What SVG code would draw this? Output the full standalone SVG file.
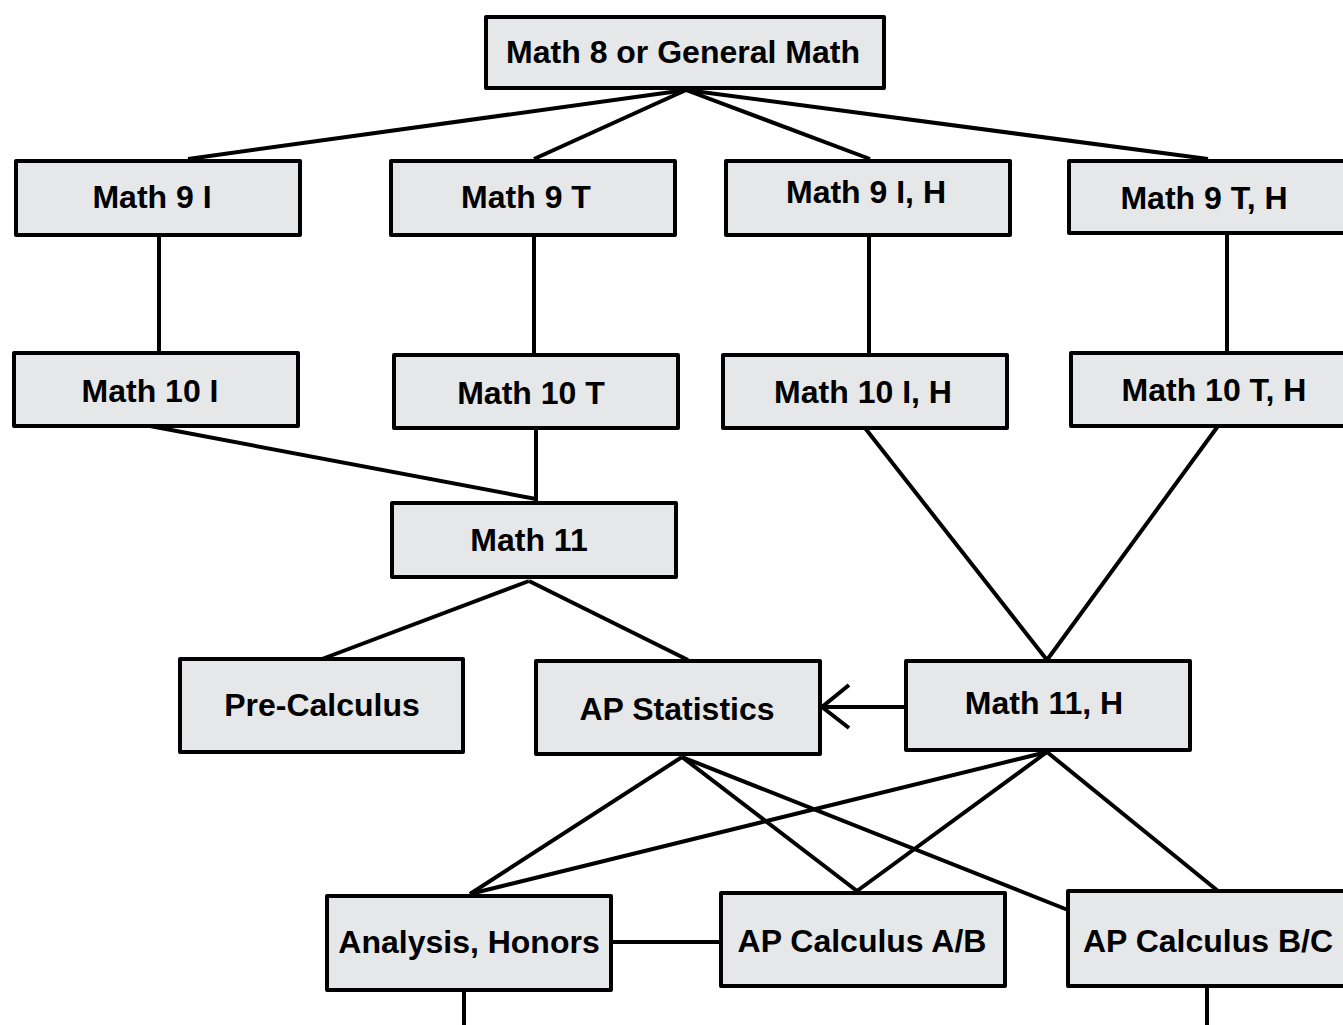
<svg xmlns="http://www.w3.org/2000/svg" width="1343" height="1025" viewBox="0 0 1343 1025">
<style>
.box{fill:#e6e7e8;stroke:#000;stroke-width:4;stroke-linejoin:round}
.lbl{font-family:"Liberation Sans",Arial,Helvetica,sans-serif;font-weight:bold;font-size:32px;fill:#000;text-anchor:middle}
.c line,.c polyline{stroke:#000;stroke-width:4;fill:none}
</style>
<rect width="1343" height="1025" fill="#fff"/>
<g class="c" id="connectors">
<line x1="686" y1="90" x2="188" y2="159"/>
<line x1="686" y1="90" x2="534" y2="159"/>
<line x1="686" y1="90" x2="870" y2="159"/>
<line x1="686" y1="90" x2="1208" y2="159"/>
<line x1="159" y1="235" x2="159" y2="353"/>
<line x1="534" y1="235" x2="534" y2="355"/>
<line x1="869" y1="235" x2="869" y2="355"/>
<line x1="1227" y1="233" x2="1227" y2="353"/>
<line x1="150" y1="426" x2="536" y2="499"/>
<line x1="536" y1="428" x2="536" y2="503"/>
<line x1="865" y1="428" x2="1047" y2="660"/>
<line x1="1218" y1="426" x2="1047" y2="660"/>
<line x1="529" y1="581" x2="322" y2="659"/>
<line x1="529" y1="581" x2="688" y2="660"/>
<line x1="906" y1="707" x2="822" y2="707"/>
<polyline points="849,685 822,707 849,728"/>
<line x1="682" y1="757" x2="470" y2="894"/>
<line x1="682" y1="757" x2="857" y2="891"/>
<line x1="682" y1="757" x2="1068" y2="910"/>
<line x1="1047" y1="752" x2="470" y2="894"/>
<line x1="1047" y1="752" x2="857" y2="891"/>
<line x1="1047" y1="752" x2="1218" y2="891"/>
<line x1="611" y1="942" x2="721" y2="942"/>
<line x1="464" y1="990" x2="464" y2="1025"/>
<line x1="1207" y1="987" x2="1207" y2="1025"/>
</g>
<g id="n-math8"><rect class="box" x="486" y="17" width="398" height="71"/><text class="lbl" x="683" y="63">Math 8 or General Math</text></g>
<g id="n-9i"><rect class="box" x="16" y="161" width="284" height="74"/><text class="lbl" x="152" y="208">Math 9 I</text></g>
<g id="n-9t"><rect class="box" x="391" y="161" width="284" height="74"/><text class="lbl" x="526" y="208">Math 9 T</text></g>
<g id="n-9ih"><rect class="box" x="726" y="161" width="284" height="74"/><text class="lbl" x="866" y="203">Math 9 I, H</text></g>
<g id="n-9th"><rect class="box" x="1069" y="161" width="290" height="72"/><text class="lbl" x="1204" y="209">Math 9 T, H</text></g>
<g id="n-10i"><rect class="box" x="14" y="353" width="284" height="73"/><text class="lbl" x="150" y="402">Math 10 I</text></g>
<g id="n-10t"><rect class="box" x="394" y="355" width="284" height="73"/><text class="lbl" x="531" y="404">Math 10 T</text></g>
<g id="n-10ih"><rect class="box" x="723" y="355" width="284" height="73"/><text class="lbl" x="863" y="403">Math 10 I, H</text></g>
<g id="n-10th"><rect class="box" x="1071" y="353" width="290" height="73"/><text class="lbl" x="1214" y="401">Math 10 T, H</text></g>
<g id="n-11"><rect class="box" x="392" y="503" width="284" height="74"/><text class="lbl" x="529" y="551">Math 11</text></g>
<g id="n-precalc"><rect class="box" x="180" y="659" width="283" height="93"/><text class="lbl" x="322" y="716">Pre-Calculus</text></g>
<g id="n-apstat"><rect class="box" x="536" y="661" width="284" height="93"/><text class="lbl" x="677" y="720">AP Statistics</text></g>
<g id="n-11h"><rect class="box" x="906" y="661" width="284" height="89"/><text class="lbl" x="1044" y="714">Math 11, H</text></g>
<g id="n-analysis"><rect class="box" x="327" y="896" width="284" height="94"/><text class="lbl" x="469" y="953">Analysis, Honors</text></g>
<g id="n-calcab"><rect class="box" x="721" y="893" width="284" height="93"/><text class="lbl" x="862" y="952">AP Calculus A/B</text></g>
<g id="n-calcbc"><rect class="box" x="1068" y="891" width="290" height="95"/><text class="lbl" x="1208" y="952">AP Calculus B/C</text></g>
</svg>
